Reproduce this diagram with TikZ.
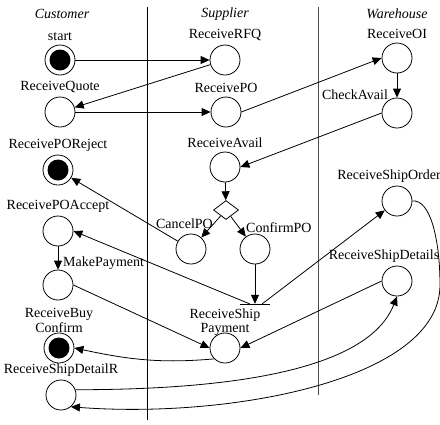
\documentclass[tikz,border=0pt]{standalone}
\usepackage{fontspec}
\setmainfont{Liberation Serif}
\usetikzlibrary{arrows.meta,shapes.geometric}
\tikzset{
  state/.style={circle, draw, line width=0.8pt, minimum size=30pt, inner sep=0pt},
  final/.style={state, path picture={\fill (path picture bounding box.center) circle (10.5pt);}},
  choice/.style={diamond, draw, line width=0.8pt, minimum width=25pt, minimum height=19pt, inner sep=0pt},
  joinbar/.style={minimum width=30pt, minimum height=0pt, inner sep=0pt},
  lanehead/.style={font=\fontsize{14}{12}\selectfont\itshape},
  twoline/.style={align=center, inner sep=1pt, label distance=0pt},
  divider/.style={line width=0.8pt},
  flow/.style={-{Triangle[length=9pt,width=8pt]}, line width=0.8pt},
}

\begin{document}
\begin{tikzpicture}[x=1pt, y=-1pt, font=\fontsize{14}{12}\selectfont]
  \useasboundingbox (0,0) rectangle (440,424);
  % swimlanes
  \node[lanehead] (hcust) at (62,14) {Customer};
  \node[lanehead] (hsupp) at (225,14) {Supplier};
  \node[lanehead] (hware) at (397,14) {Warehouse};
  \draw[divider] (147,7) -- (147,420);
  \draw[divider,black!70] (318,7) -- (318,395);
  % customer
  \node[final, label=above:start] (start) at (60,60) {};
  \node[state, label=above:ReceiveQuote] (quote) at (60,112) {};
  \node[final, label=above:ReceivePOReject] (reject) at (58,170) {};
  \node[state, label=above:ReceivePOAccept] (accept) at (58,231) {};
  \node[state, label={[anchor=south west, inner sep=0pt, xshift=5pt]north:MakePayment}] (pay) at (58,285) {};
  \node[final, label={[twoline, label distance=-1pt]above:ReceiveBuy\\[0.5pt]Confirm}] (buy) at (59,348) {};
  \node[state, label=above:ReceiveShipDetailR] (detailr) at (61,395) {};
  % supplier
  \node[state, label=above:ReceiveRFQ] (rfq) at (225,60) {};
  \node[state, label=above:ReceivePO] (rpo) at (226,112) {};
  \node[state, label=above:ReceiveAvail] (ravail) at (225,167) {};
  \node[choice] (pick) at (226,210) {};
  \node[state, label={[anchor=south east, inner sep=0pt, xshift=22pt, yshift=5pt]north:CancelPO}] (cancel) at (191,249) {};
  \node[state, label={[anchor=south west, inner sep=0pt, xshift=-9pt, yshift=1pt]north:ConfirmPO}] (confirm) at (255,249) {};
  \node[joinbar] (join) at (255,304) {};
  \draw[line width=0.8pt] (join.west) -- (join.east);
  \node[state, label={[twoline, label distance=-4pt]above:ReceiveShip\\[0.5pt]Payment}] (rship) at (225,348) {};
  % warehouse
  \node[state, label=above:ReceiveOI] (roi) at (397,58) {};
  \node[state, label={[anchor=south east, inner sep=0pt, xshift=2pt, yshift=2pt]north west:CheckAvail}] (check) at (397,113) {};
  \node[state, label={[xshift=-8pt]above:ReceiveShipOrder}] (rorder) at (397,201) {};
  \node[state, label={[xshift=-13pt]above:ReceiveShipDetails}] (rdetails) at (397,281) {};
  \coordinate (rim) at (440,285);
  % flows
  \draw[flow] (start) -- (rfq);
  \draw[flow] (rfq) -- (quote);
  \draw[flow] (quote) -- (rpo);
  \draw[flow] (rpo.east) -- (roi.west);
  \draw[flow] (roi) -- (check);
  \draw[flow] (check.west) -- (ravail.east);
  \draw[flow] (ravail) -- (pick);
  \draw[flow] (pick) -- (cancel);
  \draw[flow] (pick) -- (confirm);
  \draw[flow] (cancel) -- (reject);
  \draw[flow] (confirm) -- (join);
  \draw[flow] ([xshift=-5pt]join.center) -- (accept.east);
  \draw[flow] ([xshift=7pt]join.center) -- (rorder);
  \draw[flow] (accept) -- (pay);
  \draw[flow] (pay.east) -- (rship.west);
  \draw[flow] (rdetails.west) -- (rship.east);
  \draw[flow] (rship.south west) to[out=185, in=-12] (buy.east);
  \draw[flow] (detailr.20) .. controls +(174,0) and +(-27,69) .. (rdetails.south);
  \draw[flow] (rorder.east) .. controls +(18,-2) and +(0,-45) .. (rim)
    .. controls +(0,95) and +(159,12) .. (detailr.-50);
\end{tikzpicture}
\end{document}
